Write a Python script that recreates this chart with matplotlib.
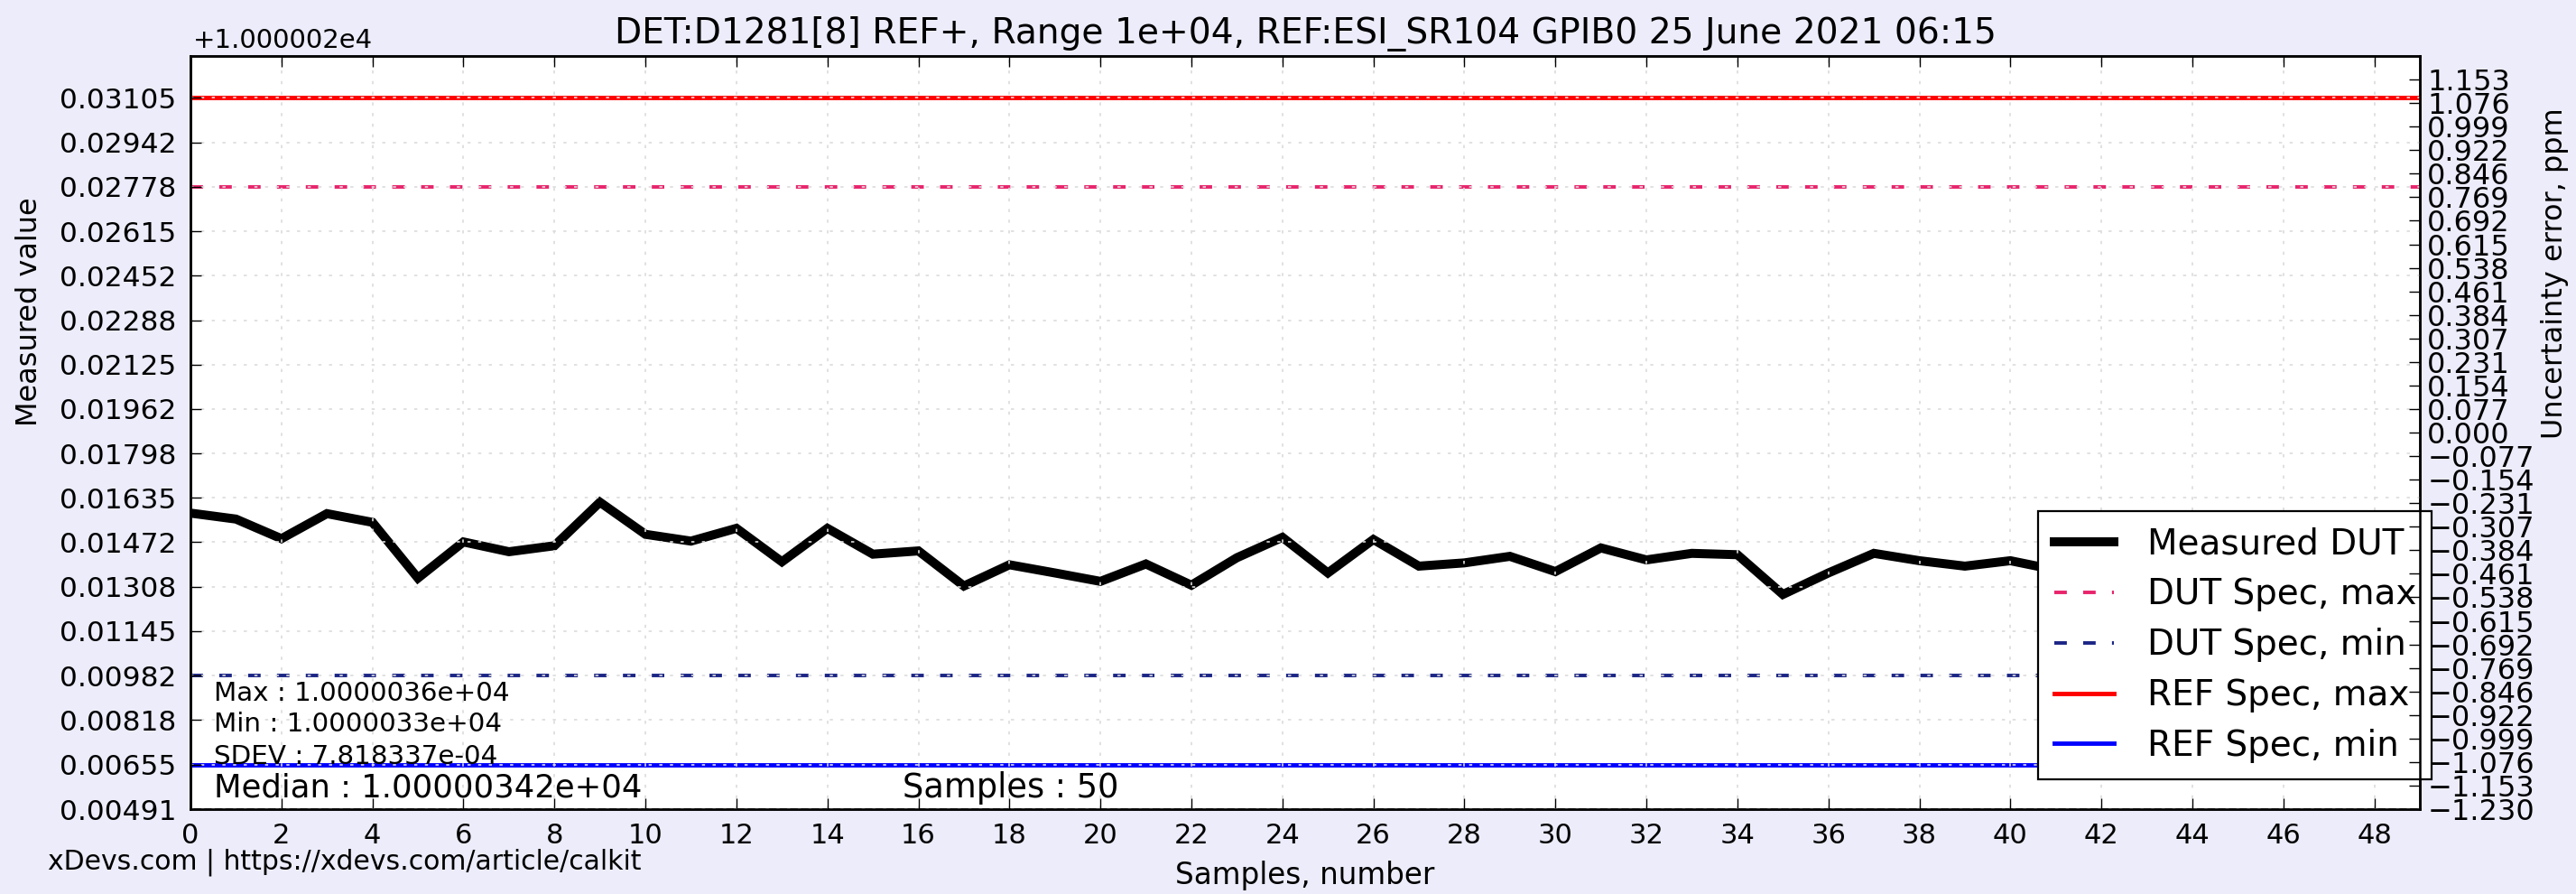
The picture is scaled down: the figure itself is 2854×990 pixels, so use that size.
#!/usr/bin/env python3
import matplotlib
import matplotlib.pyplot as plt

matplotlib.use("Agg")

WIDTH, HEIGHT, DPI = 2854, 990, 100
BG = "#ECECFA"

TITLE = "DET:D1281[8] REF+, Range 1e+04, REF:ESI_SR104 GPIB0 25 June 2021 06:15"
OFFSET_TEXT = "+1.000002e4"
FOOTER = "xDevs.com | https://xdevs.com/article/calkit"

# measured DUT values, relative to the 1.000002e4 offset
samples = list(range(50))
measured = [
    0.01579, 0.01557, 0.01485, 0.01577, 0.01545, 0.01340, 0.01473, 0.01437, 0.01459, 0.01619,
    0.01501, 0.01476, 0.01523, 0.01400, 0.01523, 0.01428, 0.01440, 0.01311, 0.01389, 0.01359,
    0.01328, 0.01392, 0.01314, 0.01415, 0.01490, 0.01359, 0.01482, 0.01384, 0.01396, 0.01420,
    0.01364, 0.01451, 0.01407, 0.01431, 0.01426, 0.01280, 0.01359, 0.01431, 0.01404, 0.01384,
    0.01404, 0.01370, 0.01415, 0.01395, 0.01430, 0.01400, 0.01385, 0.01420, 0.01410, 0.01398,
]
dut_spec_max = 0.02778
dut_spec_min = 0.00982
ref_spec_max = 0.03105
ref_spec_min = 0.00655

left_ticks = [
    0.00491, 0.00655, 0.00818, 0.00982, 0.01145, 0.01308, 0.01472, 0.01635, 0.01798,
    0.01962, 0.02125, 0.02288, 0.02452, 0.02615, 0.02778, 0.02942, 0.03105,
]
right_ticks = [
    -1.230, -1.153, -1.076, -0.999, -0.922, -0.846, -0.769, -0.692, -0.615, -0.538,
    -0.461, -0.384, -0.307, -0.231, -0.154, -0.077, 0.000, 0.077, 0.154, 0.231,
    0.307, 0.384, 0.461, 0.538, 0.615, 0.692, 0.769, 0.846, 0.922, 0.999, 1.076, 1.153,
]
x_ticks = list(range(0, 49, 2))

stats_lines = ["Max : 1.0000036e+04", "Min : 1.0000033e+04", "SDEV : 7.818337e-04"]
median_text = "Median : 1.00000342e+04"
samples_text = "Samples : 50"


def px_x(x: float) -> float:
    return x / WIDTH


def px_y(y: float) -> float:
    return 1 - y / HEIGHT


def fmt_ppm(v: float) -> str:
    s = f"{abs(v):.3f}"
    return ("\u2212" + s) if v < 0 else s


def main() -> None:
    plt.rcParams["font.family"] = ["DejaVu Sans"]
    plt.rcParams["lines.scale_dashes"] = False

    fig = plt.figure(figsize=(WIDTH / DPI, HEIGHT / DPI), dpi=DPI, facecolor=BG)
    left, right, top, bottom = 211, 2681, 62, 896
    ax = fig.add_axes([px_x(left), px_y(bottom), (right - left) / WIDTH, (bottom - top) / HEIGHT])
    ax.set_facecolor("white")

    ax.plot(samples, measured, color="black", lw=7.2, solid_joinstyle="miter",
            label="Measured DUT")
    ax.axhline(dut_spec_max, color="#e8246c", lw=2.8, ls=(0, (10, 13)), label="DUT Spec, max")
    ax.axhline(dut_spec_min, color="#1b2585", lw=2.8, ls=(0, (10, 13)), label="DUT Spec, min")
    ax.axhline(ref_spec_max, color="#ff0000", lw=3.5, label="REF Spec, max")
    ax.axhline(ref_spec_min, color="#0000ff", lw=3.5, label="REF Spec, min")

    ax.set_xlim(0, 49)
    ax.set_ylim(0.00491, 0.03259)
    ax.set_xticks(x_ticks)
    ax.set_yticks(left_ticks)
    ax.set_yticklabels([f"{v:.5f}" for v in left_ticks])

    ax.set_axisbelow(False)
    ax.grid(True, color="#dcdcdc", lw=1.2, ls=(0, (2.5, 6)))

    for sp in ax.spines.values():
        sp.set_linewidth(1.8)
    ax.tick_params(axis="x", direction="in", length=8.6, width=1.0, top=True,
                   labelsize=22, pad=11)
    ax.tick_params(axis="y", direction="in", length=8.6, width=1.0, labelsize=22.5, pad=11)

    ax.set_title(TITLE, fontsize=28.2, pad=10)
    fig.text(px_x(214), px_y(53), OFFSET_TEXT, fontsize=21, va="baseline")

    ax.set_xlabel("Samples, number", fontsize=23.5)
    ax.xaxis.set_label_coords(0.5, (bottom - 970) / (bottom - top))
    ax.xaxis.label.set_va("center")
    ax.set_ylabel("Measured value", fontsize=23)
    ax.yaxis.set_label_coords((33 - left) / (right - left), 0.66)
    ax.yaxis.label.set_va("center")

    ax2 = ax.twinx()
    ax2.set_ylim(-1.23, 1.23)
    ax2.set_yticks(right_ticks)
    ax2.set_yticklabels([fmt_ppm(v) for v in right_ticks])
    ax2.tick_params(axis="y", direction="in", length=8.6, width=1.0, labelsize=23, pad=6)
    for sp in ax2.spines.values():
        sp.set_linewidth(1.8)
    ax2.set_ylabel("Uncertainty error, ppm", fontsize=23)
    ax2.yaxis.set_label_coords((2830 - left) / (right - left), 0.712)
    ax2.yaxis.label.set_va("center")

    ys = [0.144, 0.103, 0.0603]
    for text, y in zip(stats_lines, ys):
        ax.text(0.0105, y, text, transform=ax.transAxes, fontsize=21.2, va="baseline")
    ax.text(0.0105, 0.0159, median_text, transform=ax.transAxes, fontsize=25.5, va="baseline")
    ax.text((1000 - left) / (right - left), 0.0159, samples_text, transform=ax.transAxes,
            fontsize=26.5, va="baseline")

    leg = ax.legend(loc="upper left", bbox_to_anchor=(px_x(2258), px_y(566)),
                    bbox_transform=fig.transFigure, borderaxespad=0, fontsize=28,
                    fancybox=False, framealpha=1, edgecolor="black", handlelength=1.7,
                    handletextpad=0.95, labelspacing=0.46, borderpad=0.45)
    leg.get_frame().set_linewidth(1.6)
    leg.set_zorder(5)

    fig.text(px_x(53), px_y(962), FOOTER, fontsize=21.5, va="baseline")

    fig.savefig("out.png", dpi=DPI, facecolor=BG)


if __name__ == "__main__":
    main()
